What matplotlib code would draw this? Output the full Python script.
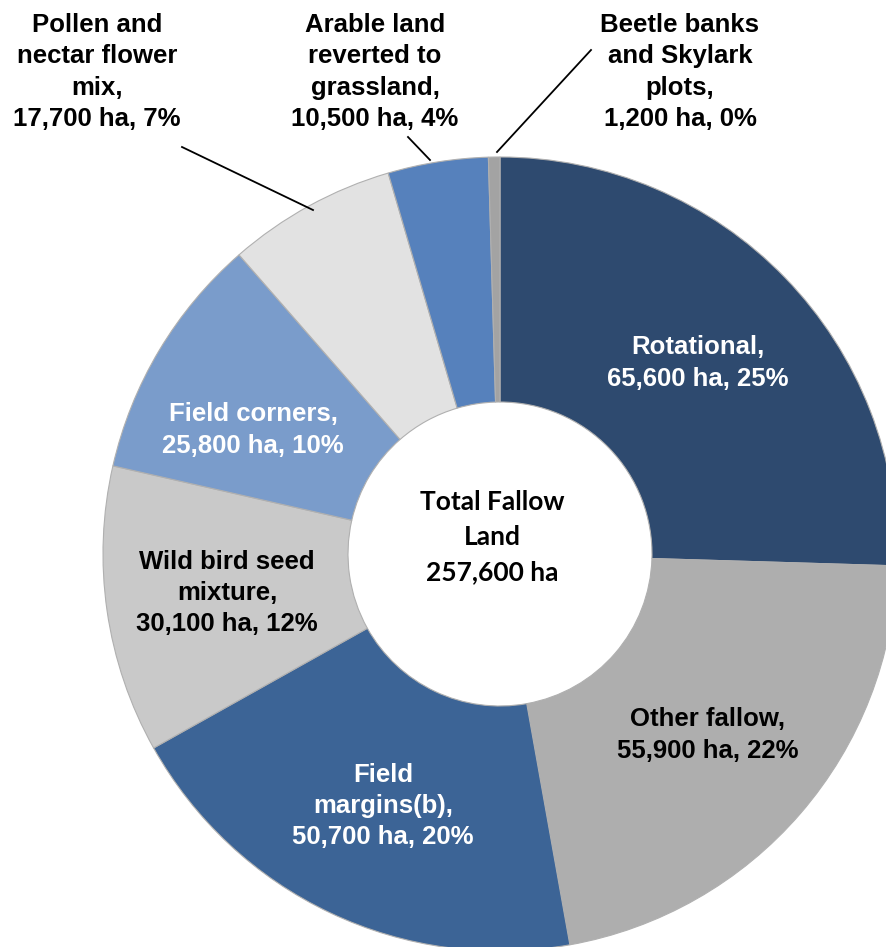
import matplotlib.pyplot as plt

# fallow land by type (ha)
categories = ['Rotational', 'Other fallow', 'Field margins(b)', 'Wild bird seed mixture',
              'Field corners', 'Pollen and nectar flower mix',
              'Arable land reverted to grassland', 'Beetle banks and Skylark plots']
hectares = [65600, 55900, 50700, 30100, 25800, 17700, 10500, 1200]
percents = [25, 22, 20, 12, 10, 7, 4, 0]
label_names = ['Rotational,', 'Other fallow,', 'Field\nmargins(b),', 'Wild bird seed\nmixture,',
               'Field corners,', 'Pollen and\nnectar flower\nmix,',
               'Arable land\nreverted to\ngrassland,', 'Beetle banks\nand Skylark\nplots,']
total = 257600

colors = ['#2E4A6F', '#AEAEAE', '#3C6496', '#C9C9C9', '#7A9CCB', '#E2E2E2', '#5681BC', '#A3A3A3']
text_colors = ['white', 'black', 'white', 'black', 'white', 'black', 'black', 'black']

W, H = 886, 947
fig = plt.figure(figsize=(W / 100, H / 100), dpi=100)
ax = fig.add_axes([0, 0, 1, 1])

def py(y):
    # pixel row -> data y
    return H - y

cx, cy, r_out, r_in = 500, 554, 397, 152
ax.pie(hectares, colors=colors, startangle=90, counterclock=False,
       center=(cx, py(cy)), radius=r_out,
       wedgeprops=dict(width=r_out - r_in, edgecolor='#B0B0B0', linewidth=0.8))
ax.set_xlim(0, W)
ax.set_ylim(0, H)
ax.set_aspect('equal')
ax.axis('off')

# label positions in pixels (centre of text block)
label_pos = [(698, 363), (708, 735), (383, 806), (227, 593),
             (253, 430), (97, 72), (375, 72), (680, 72)]
for name, ha_val, pct, (x, y), tc in zip(label_names, hectares, percents, label_pos, text_colors):
    txt = f'{name}\n{ha_val:,} ha, {pct}%'
    ax.text(x, py(y), txt, ha='center', va='center', color=tc, fontsize=18.5,
            fontweight='bold', family='Liberation Sans', linespacing=1.38)

# leader lines for outside labels
leaders = [((182, 147), (313, 210)), ((408, 137), (430, 160)), ((591, 50), (497, 152))]
for (x0, y0), (x1, y1) in leaders:
    ax.plot([x0, x1], [py(y0), py(y1)], color='black', lw=1.3)

ax.text(cx - 8, py(537), f'Total Fallow\nLand\n{total:,} ha', ha='center', va='center',
        fontsize=19, fontweight='bold', family='Lato', linespacing=1.55)

fig.savefig('out.png', dpi=100)
